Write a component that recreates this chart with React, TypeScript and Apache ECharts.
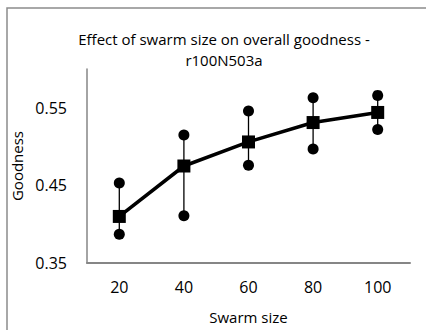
import React, { useEffect, useRef } from "react";
import * as echarts from "echarts";

const categories = ["20", "40", "60", "80", "100"];
const meanValues = [0.41, 0.475, 0.506, 0.531, 0.544];
const minValues = [0.387, 0.411, 0.476, 0.497, 0.522];
const maxValues = [0.453, 0.515, 0.546, 0.563, 0.566];
const yTickLabels = ["0.35", "0.45", "0.55"];

const FONT = "Open Sans";

export default function App() {
  const ref = useRef<HTMLDivElement>(null);
  useEffect(() => {
    if (!ref.current) return;
    const chart = echarts.init(ref.current, null, { renderer: "svg" });
    chart.setOption({
      animation: false,
      backgroundColor: "#ffffff",
      title: {
        text: "Effect of swarm size on overall goodness -\nr100N503a",
        left: 219,
        top: 23,
        textAlign: "center",
        textStyle: { fontFamily: FONT, fontSize: 15, fontWeight: "normal", color: "#000", lineHeight: 21 },
      },
      graphic: [
        {
          type: "rect",
          shape: { x: 7, y: 8, width: 440, height: 340 },
          style: { fill: "none", stroke: "#8c8c8c", lineWidth: 1.5 },
          silent: true,
        },
      ],
      grid: { left: 87, top: 69, right: 16, bottom: 67 },
      xAxis: {
        type: "category",
        data: categories,
        boundaryGap: true,
        axisLine: { lineStyle: { color: "#868686", width: 2 } },
        axisTick: { show: false },
        axisLabel: { fontFamily: FONT, fontSize: 16, color: "#000", margin: 16 },
        name: "Swarm size",
        nameLocation: "middle",
        nameGap: 46,
        nameTextStyle: { fontFamily: FONT, fontSize: 15, color: "#000" },
      },
      yAxis: {
        type: "value",
        min: 0.35,
        max: 0.6,
        interval: 0.05,
        splitLine: { show: false },
        axisLine: { show: true, lineStyle: { color: "#868686", width: 1.5 } },
        axisTick: { show: false },
        axisLabel: {
          fontFamily: FONT,
          fontSize: 16,
          color: "#000",
          margin: 20,
          formatter: (v: number) => {
            const s = v.toFixed(2);
            return yTickLabels.indexOf(s) >= 0 ? s : "";
          },
        },
        name: "Goodness",
        nameLocation: "middle",
        nameGap: 56,
        nameTextStyle: { fontFamily: FONT, fontSize: 15, color: "#000" },
      },
      series: [
        {
          type: "custom",
          z: 1,
          data: categories.map((_, i) => [i, minValues[i], maxValues[i]]),
          renderItem: (params: any, api: any) => {
            const lo = api.coord([api.value(0), api.value(1)]);
            const hi = api.coord([api.value(0), api.value(2)]);
            return {
              type: "line",
              shape: { x1: lo[0], y1: lo[1], x2: hi[0], y2: hi[1] },
              style: { stroke: "#000", lineWidth: 1.3 },
            };
          },
        },
        {
          type: "scatter",
          z: 2,
          symbol: "circle",
          symbolSize: 11,
          itemStyle: { color: "#000", opacity: 1 },
          data: maxValues,
        },
        {
          type: "scatter",
          z: 2,
          symbol: "circle",
          symbolSize: 11,
          itemStyle: { color: "#000", opacity: 1 },
          data: minValues,
        },
        {
          type: "line",
          z: 3,
          data: meanValues,
          symbol: "rect",
          symbolSize: 13,
          showAllSymbol: true,
          lineStyle: { color: "#000", width: 3.5 },
          itemStyle: { color: "#000" },
        },
      ],
    });
    return () => chart.dispose();
  }, []);
  return (
    <div
      ref={ref}
      style={{ position: "fixed", left: 0, top: 0, width: 426, height: 330 }}
    />
  );
}
